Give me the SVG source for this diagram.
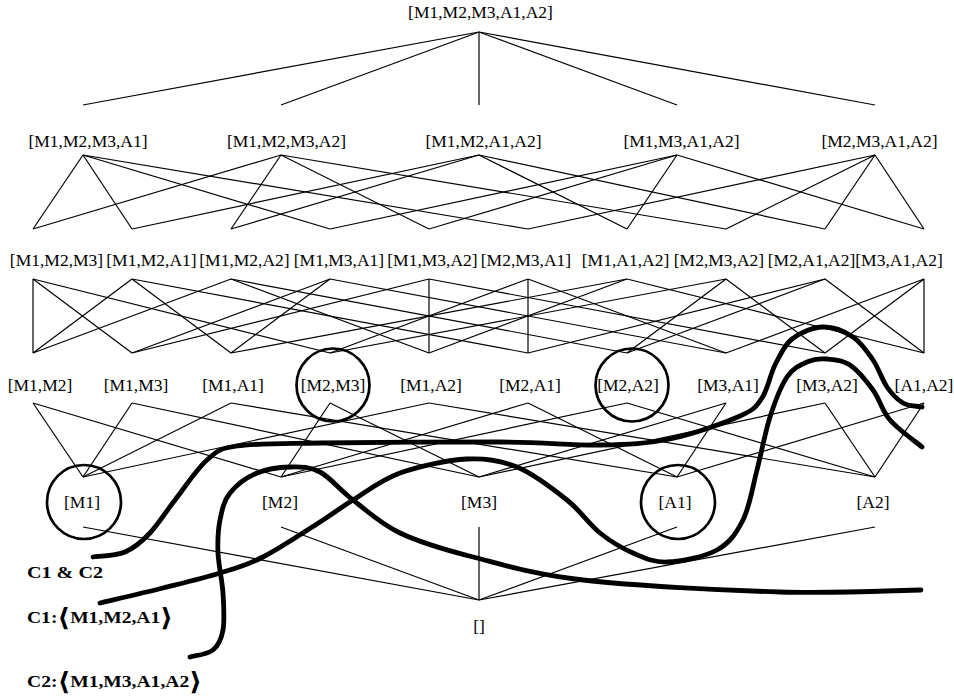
<svg xmlns="http://www.w3.org/2000/svg" width="954" height="696" viewBox="0 0 954 696">
<style>
  text { font-family: "Liberation Serif", "Times New Roman", serif; font-size: 17.5px; fill: #000; }
  .n text { text-anchor: middle; }
  .lbl { font-weight: bold; }
  .ang { font-family: "DejaVu Serif", "DejaVu Sans", serif; font-size: 25px; font-weight: bold; }
  .e line { stroke: #000; stroke-width: 1.2; }
  .ring { fill: none; stroke: #000; stroke-width: 2.7; }
  .cut { fill: none; stroke: #000; stroke-width: 4.8; stroke-linecap: round; stroke-linejoin: round; }
</style>
<rect width="954" height="696" fill="#fff"/>

<g id="connectors" class="e">
  <!-- top to level 4 -->
  <line x1="479" y1="32" x2="83" y2="105"/>
  <line x1="479" y1="32" x2="281" y2="105"/>
  <line x1="479" y1="32" x2="479" y2="105"/>
  <line x1="479" y1="32" x2="677" y2="105"/>
  <line x1="479" y1="32" x2="875" y2="105"/>
  <!-- level 4 to level 3 -->
  <line x1="83" y1="155" x2="33" y2="229"/>
  <line x1="83" y1="155" x2="132" y2="229"/>
  <line x1="83" y1="155" x2="330" y2="229"/>
  <line x1="83" y1="155" x2="528" y2="229"/>
  <line x1="281" y1="155" x2="33" y2="229"/>
  <line x1="281" y1="155" x2="231" y2="229"/>
  <line x1="281" y1="155" x2="429" y2="229"/>
  <line x1="281" y1="155" x2="726" y2="229"/>
  <line x1="479" y1="155" x2="132" y2="229"/>
  <line x1="479" y1="155" x2="231" y2="229"/>
  <line x1="479" y1="155" x2="627" y2="229"/>
  <line x1="479" y1="155" x2="825" y2="229"/>
  <line x1="677" y1="155" x2="330" y2="229"/>
  <line x1="677" y1="155" x2="429" y2="229"/>
  <line x1="677" y1="155" x2="627" y2="229"/>
  <line x1="677" y1="155" x2="924" y2="229"/>
  <line x1="875" y1="155" x2="528" y2="229"/>
  <line x1="875" y1="155" x2="726" y2="229"/>
  <line x1="875" y1="155" x2="825" y2="229"/>
  <line x1="875" y1="155" x2="924" y2="229"/>
  <!-- level 3 to level 2 -->
  <line x1="33" y1="279" x2="33" y2="353"/>
  <line x1="33" y1="279" x2="132" y2="353"/>
  <line x1="33" y1="279" x2="330" y2="353"/>
  <line x1="132" y1="279" x2="33" y2="353"/>
  <line x1="132" y1="279" x2="231" y2="353"/>
  <line x1="132" y1="279" x2="528" y2="353"/>
  <line x1="231" y1="279" x2="33" y2="353"/>
  <line x1="231" y1="279" x2="429" y2="353"/>
  <line x1="231" y1="279" x2="627" y2="353"/>
  <line x1="330" y1="279" x2="132" y2="353"/>
  <line x1="330" y1="279" x2="231" y2="353"/>
  <line x1="330" y1="279" x2="726" y2="353"/>
  <line x1="429" y1="279" x2="132" y2="353"/>
  <line x1="429" y1="279" x2="429" y2="353"/>
  <line x1="429" y1="279" x2="825" y2="353"/>
  <line x1="528" y1="279" x2="330" y2="353"/>
  <line x1="528" y1="279" x2="528" y2="353"/>
  <line x1="528" y1="279" x2="726" y2="353"/>
  <line x1="627" y1="279" x2="231" y2="353"/>
  <line x1="627" y1="279" x2="429" y2="353"/>
  <line x1="627" y1="279" x2="924" y2="353"/>
  <line x1="726" y1="279" x2="330" y2="353"/>
  <line x1="726" y1="279" x2="627" y2="353"/>
  <line x1="726" y1="279" x2="825" y2="353"/>
  <line x1="825" y1="279" x2="528" y2="353"/>
  <line x1="825" y1="279" x2="627" y2="353"/>
  <line x1="825" y1="279" x2="924" y2="353"/>
  <line x1="924" y1="279" x2="726" y2="353"/>
  <line x1="924" y1="279" x2="825" y2="353"/>
  <line x1="924" y1="279" x2="924" y2="353"/>
  <!-- level 2 to level 1 -->
  <line x1="33" y1="403" x2="83" y2="477"/>
  <line x1="33" y1="403" x2="281" y2="477"/>
  <line x1="132" y1="403" x2="83" y2="477"/>
  <line x1="132" y1="403" x2="479" y2="477"/>
  <line x1="231" y1="403" x2="83" y2="477"/>
  <line x1="231" y1="403" x2="677" y2="477"/>
  <line x1="330" y1="403" x2="281" y2="477"/>
  <line x1="330" y1="403" x2="479" y2="477"/>
  <line x1="429" y1="403" x2="83" y2="477"/>
  <line x1="429" y1="403" x2="875" y2="477"/>
  <line x1="528" y1="403" x2="281" y2="477"/>
  <line x1="528" y1="403" x2="677" y2="477"/>
  <line x1="627" y1="403" x2="281" y2="477"/>
  <line x1="627" y1="403" x2="875" y2="477"/>
  <line x1="726" y1="403" x2="479" y2="477"/>
  <line x1="726" y1="403" x2="677" y2="477"/>
  <line x1="825" y1="403" x2="479" y2="477"/>
  <line x1="825" y1="403" x2="875" y2="477"/>
  <line x1="924" y1="403" x2="677" y2="477"/>
  <line x1="924" y1="403" x2="875" y2="477"/>
  <!-- level 1 to bottom -->
  <line x1="83" y1="527" x2="479" y2="600"/>
  <line x1="281" y1="527" x2="479" y2="600"/>
  <line x1="479" y1="527" x2="479" y2="600"/>
  <line x1="677" y1="527" x2="479" y2="600"/>
  <line x1="875" y1="527" x2="479" y2="600"/>
</g>

<g class="n">
  <g id="n-M1M2M3A1A2"><text x="480.5" y="18">[M1,M2,M3,A1,A2]</text></g>

  <g id="n-M1M2M3A1"><text x="88" y="146.5">[M1,M2,M3,A1]</text></g>
  <g id="n-M1M2M3A2"><text x="286.5" y="146.5">[M1,M2,M3,A2]</text></g>
  <g id="n-M1M2A1A2"><text x="483.5" y="146.5">[M1,M2,A1,A2]</text></g>
  <g id="n-M1M3A1A2"><text x="681.5" y="146.5">[M1,M3,A1,A2]</text></g>
  <g id="n-M2M3A1A2"><text x="879.5" y="146.5">[M2,M3,A1,A2]</text></g>

  <g id="n-M1M2M3"><text x="56.5" y="266">[M1,M2,M3]</text></g>
  <g id="n-M1M2A1"><text x="151.5" y="266">[M1,M2,A1]</text></g>
  <g id="n-M1M2A2"><text x="244.5" y="266">[M1,M2,A2]</text></g>
  <g id="n-M1M3A1"><text x="339" y="266">[M1,M3,A1]</text></g>
  <g id="n-M1M3A2"><text x="432.5" y="266">[M1,M3,A2]</text></g>
  <g id="n-M2M3A1"><text x="526" y="266">[M2,M3,A1]</text></g>
  <g id="n-M1A1A2"><text x="625.5" y="266">[M1,A1,A2]</text></g>
  <g id="n-M2M3A2"><text x="719" y="266">[M2,M3,A2]</text></g>
  <g id="n-M2A1A2"><text x="811.5" y="266">[M2,A1,A2]</text></g>
  <g id="n-M3A1A2"><text x="899" y="266">[M3,A1,A2]</text></g>

  <g id="n-M1M2"><text x="40" y="391">[M1,M2]</text></g>
  <g id="n-M1M3"><text x="136" y="391">[M1,M3]</text></g>
  <g id="n-M1A1"><text x="233" y="391">[M1,A1]</text></g>
  <g id="n-M2M3"><text x="333" y="391">[M2,M3]</text><circle class="ring" cx="333" cy="385" r="36.5"/></g>
  <g id="n-M1A2"><text x="431" y="391">[M1,A2]</text></g>
  <g id="n-M2A1"><text x="530" y="391">[M2,A1]</text></g>
  <g id="n-M2A2"><text x="628" y="391">[M2,A2]</text><circle class="ring" cx="632" cy="385" r="36.5"/></g>
  <g id="n-M3A1"><text x="728" y="391">[M3,A1]</text></g>
  <g id="n-M3A2"><text x="827" y="391">[M3,A2]</text></g>
  <g id="n-A1A2"><text x="924" y="391">[A1,A2]</text></g>

  <g id="n-M1"><text x="82" y="508">[M1]</text><circle class="ring" cx="84" cy="502" r="37"/></g>
  <g id="n-M2"><text x="280" y="508">[M2]</text></g>
  <g id="n-M3"><text x="479" y="508">[M3]</text></g>
  <g id="n-A1"><text x="675" y="508">[A1]</text><circle class="ring" cx="678" cy="502" r="37"/></g>
  <g id="n-A2"><text x="873" y="508">[A2]</text></g>

  <g id="n-empty"><text x="479" y="632">[]</text></g>
</g>

<g id="curves">
  <path id="cut-C1C2" class="cut" d="M93,557 C98.3,556.2 115.5,556 125,552 C134.5,548 141.7,541.7 150,533 C158.3,524.3 165.5,512.2 175,500 C184.5,487.8 196.7,469 207,460 C217.3,451 218.2,448.8 237,446 C255.8,443.2 276.2,443.7 320,443 C363.8,442.3 453.3,441.7 500,442 C546.7,442.3 571.7,445.5 600,445 C628.3,444.5 646.7,443.8 670,439 C693.3,434.2 724.7,422.8 740,416 C755.3,409.2 756.2,406.5 762,398 C767.8,389.5 770,374.8 775,365 C780,355.2 784,345.3 792,339 C800,332.7 812.8,327.3 823,327 C833.2,326.7 844.7,331.5 853,337 C861.3,342.5 867.3,351.7 873,360 C878.7,368.3 882,379.8 887,387 C892,394.2 897.2,399.7 903,403 C908.8,406.3 918.8,406.3 922,407"/>
  <path id="cut-C1" class="cut" d="M100,603 C110.5,600.5 143,593 163,588 C183,583 203.3,578.2 220,573 C236.7,567.8 246.3,565.5 263,557 C279.7,548.5 305,531.5 320,522 C335,512.5 339.7,508.2 353,500 C366.3,491.8 381,479.8 400,473 C419,466.2 447.5,460 467,459 C486.5,458 500.3,460.2 517,467 C533.7,473.8 553.2,489 567,500 C580.8,511 589,524.2 600,533 C611,541.8 621.8,548.2 633,553 C644.2,557.8 653,562.5 667,562 C681,561.5 704.3,557 717,550 C729.7,543 736.3,533.3 743,520 C749.7,506.7 752.5,487.2 757,470 C761.5,452.8 765,432.5 770,417 C775,401.5 780.8,386.2 787,377 C793.2,367.8 800.3,365 807,362 C813.7,359 819.8,358.5 827,359 C834.2,359.5 842.3,359.8 850,365 C857.7,370.2 866.3,380.8 873,390 C879.7,399.2 881.8,410.5 890,420 C898.2,429.5 916.7,442.5 922,447"/>
  <path id="cut-C2" class="cut" d="M190,657 C193.8,655.8 207.5,654.5 213,650 C218.5,645.5 221.3,639.5 223,630 C224.7,620.5 223.8,605.8 223,593 C222.2,580.2 218.5,565.2 218,553 C217.5,540.8 218,530 220,520 C222,510 223.8,500.8 230,493 C236.2,485.2 247,477.3 257,473 C267,468.7 279.5,467.2 290,467 C300.5,466.8 309.5,466.5 320,472 C330.5,477.5 339.7,489.8 353,500 C366.3,510.2 380,523.5 400,533 C420,542.5 442.5,549.2 473,557 C503.5,564.8 531.8,574.2 583,580 C634.2,585.8 723.7,590.3 780,592 C836.3,593.7 897.5,590.3 921,590"/>
</g>

<g id="labels">
  <text class="lbl" x="27" y="578" textLength="76" lengthAdjust="spacingAndGlyphs">C1 &amp; C2</text>
  <text class="lbl" x="27" y="623" textLength="146" lengthAdjust="spacingAndGlyphs">C1:<tspan class="ang" dy="3">⟨</tspan><tspan dy="-3">M1,M2,A1</tspan><tspan class="ang" dy="3">⟩</tspan></text>
  <text class="lbl" x="27" y="687" textLength="175" lengthAdjust="spacingAndGlyphs">C2:<tspan class="ang" dy="3">⟨</tspan><tspan dy="-3">M1,M3,A1,A2</tspan><tspan class="ang" dy="3">⟩</tspan></text>
</g>
</svg>
